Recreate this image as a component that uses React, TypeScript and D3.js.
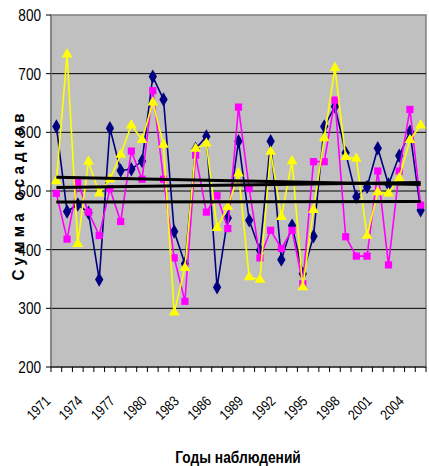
import React from "react";
import * as d3 from "d3";

// Years of observation (one category per year)
const years: number[] = [
  1971, 1972, 1973, 1974, 1975, 1976, 1977, 1978, 1979, 1980,
  1981, 1982, 1983, 1984, 1985, 1986, 1987, 1988, 1989, 1990,
  1991, 1992, 1993, 1994, 1995, 1996, 1997, 1998, 1999, 2000,
  2001, 2002, 2003, 2004, 2005,
];

// Labelled years on the category axis
const yearLabels: number[] = [1971, 1974, 1977, 1980, 1983, 1986, 1989, 1992, 1995, 1998, 2001, 2004];

// Value axis ticks
const valueTicks: number[] = [200, 300, 400, 500, 600, 700, 800];

// Precipitation totals, station 1 (navy diamonds)
const seriesNavy: number[] = [
  610, 465, 477, 463, 349, 607, 535, 537, 551, 695,
  656, 431, 376, 572, 593, 336, 454, 585, 450, 399,
  585, 383, 441, 359, 423, 610, 644, 565, 490, 507,
  573, 511, 560, 601, 467,
];

// Precipitation totals, station 2 (magenta squares)
const seriesMagenta: number[] = [
  496, 418, 515, 464, 424, 504, 448, 568, 520, 671,
  520, 386, 312, 561, 464, 492, 436, 643, 504, 386,
  433, 402, 433, 342, 550, 550, 655, 422, 389, 389,
  534, 374, 534, 639, 476,
];

// Precipitation totals, station 3 (yellow triangles)
const seriesYellow: number[] = [
  517, 733, 410, 550, 496, 520, 562, 612, 587, 651,
  579, 293, 369, 572, 581, 437, 473, 530, 353, 349,
  567, 456, 551, 336, 468, 590, 710, 558, 555, 424,
  498, 496, 522, 587, 612,
];

const W = 429;
const H = 466;
const M = { left: 51, right: 426, top: 15, bottom: 367 };
const FONT = "'Liberation Sans', Arial, sans-serif";

type Series = { values: number[]; color: string; marker: "diamond" | "square" | "triangle" };

const series: Series[] = [
  { values: seriesNavy, color: "#000080", marker: "diamond" },
  { values: seriesMagenta, color: "#FF00FF", marker: "square" },
  { values: seriesYellow, color: "#FFFF00", marker: "triangle" },
];

// Least-squares linear trend over category index
function linearTrend(values: number[]) {
  const n = values.length;
  const xs = values.map((_, i) => i + 1);
  const mx = d3.mean(xs) as number;
  const my = d3.mean(values) as number;
  let sxy = 0;
  let sxx = 0;
  for (let i = 0; i < n; i++) {
    sxy += (xs[i] - mx) * (values[i] - my);
    sxx += (xs[i] - mx) * (xs[i] - mx);
  }
  const slope = sxy / sxx;
  const intercept = my - slope * mx;
  return (i: number) => intercept + slope * (i + 1);
}

export default function App() {
  const x = d3
    .scaleBand<number>()
    .domain(years)
    .range([M.left, M.right])
    .padding(0);
  const bw = x.bandwidth();
  const cx = (yr: number) => (x(yr) as number) + bw / 2;
  const y = d3.scaleLinear().domain([200, 800]).range([M.bottom, M.top]);

  const line = d3
    .line<number>()
    .x((_, i) => cx(years[i]))
    .y((v) => y(v));

  const markerPath = (kind: Series["marker"]) => {
    if (kind === "diamond") return d3.symbol(d3.symbolDiamond, 60)();
    if (kind === "square") return d3.symbol(d3.symbolSquare, 52)();
    return d3.symbol(d3.symbolTriangle, 50)();
  };

  const boundaries = d3.range(years.length + 1).map((i) => M.left + i * bw);

  return (
    <svg
      width={W}
      height={H}
      style={{ position: "absolute", left: 0, top: 0, background: "#fff" }}
      fontFamily={FONT}
    >
      {/* plot area */}
      <rect
        x={M.left}
        y={M.top}
        width={M.right - M.left}
        height={M.bottom - M.top}
        fill="#C0C0C0"
        stroke="#808080"
        strokeWidth={1.5}
      />

      {/* horizontal gridlines */}
      {valueTicks
        .filter((t) => t > 200 && t < 800)
        .map((t) => (
          <line key={"g" + t} x1={M.left} x2={M.right} y1={y(t)} y2={y(t)} stroke="#000" strokeWidth={1} />
        ))}

      {/* value axis */}
      <line x1={M.left} x2={M.left} y1={M.top} y2={M.bottom} stroke="#808080" strokeWidth={1.5} />
      {valueTicks.map((t) => (
        <g key={"yt" + t}>
          <line x1={M.left - 5} x2={M.left} y1={y(t)} y2={y(t)} stroke="#000" />
          <text
            transform={`translate(${M.left - 10},${y(t)}) scale(0.8,1)`}
            dy="0.35em"
            textAnchor="end"
            fontSize={17}
            fill="#000"
          >
            {t}
          </text>
        </g>
      ))}

      {/* category axis */}
      <line x1={M.left} x2={M.right} y1={M.bottom} y2={M.bottom} stroke="#000" strokeWidth={1} />
      {boundaries.map((bx, i) => (
        <line key={"xt" + i} x1={bx} x2={bx} y1={M.bottom} y2={M.bottom + 5} stroke="#000" />
      ))}
      {yearLabels.map((yr) => (
        <text
          key={"xl" + yr}
          transform={`translate(${cx(yr) - 5},${402}) rotate(-45) scale(0.82,1)`}
          textAnchor="end"
          fontSize={14.5}
          fill="#000"
        >
          {yr}
        </text>
      ))}

      {/* series */}
      {series.map((s, si) => (
        <g key={"s" + si}>
          <path d={line(s.values) as string} fill="none" stroke={s.color} strokeWidth={1.6} />
          {s.values.map((v, i) => (
            <path
              key={i}
              d={markerPath(s.marker) as string}
              transform={`translate(${cx(years[i])},${y(v)})`}
              fill={s.color}
            />
          ))}
        </g>
      ))}

      {/* linear trends */}
      {series.map((s, si) => {
        const f = linearTrend(s.values);
        const last = years.length - 1;
        return (
          <line
            key={"tr" + si}
            x1={cx(years[0])}
            x2={cx(years[last])}
            y1={y(f(0))}
            y2={y(f(last))}
            stroke="#000"
            strokeWidth={3}
          />
        );
      })}

      {/* axis titles */}
      <text
        transform={`translate(24,${(M.top + M.bottom) / 2 + 6}) rotate(-90) scale(0.95,1)`}
        textAnchor="middle"
        fontSize={16}
        fontWeight="bold"
        fill="#000"
        style={{ whiteSpace: "pre" }}
      >
        {"С у м м а   о с а д к о в"}
      </text>
      <text
        transform="translate(238,463) scale(0.86,1)"
        textAnchor="middle"
        fontSize={16}
        fontWeight="bold"
        fill="#000"
      >
        Годы наблюдений
      </text>
    </svg>
  );
}
